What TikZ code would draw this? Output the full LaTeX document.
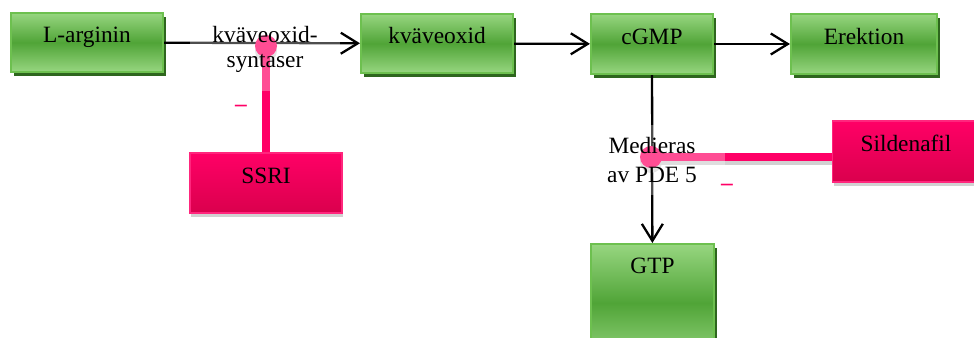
\documentclass[tikz,border=0pt]{standalone}
\usepackage{fontspec}
\setmainfont{Liberation Serif}
\usetikzlibrary{arrows.meta,shadows}

\definecolor{boxgreen}{HTML}{50A437}
\definecolor{lightgreen}{HTML}{97D680}
\definecolor{edgegreen}{HTML}{6DC04F}
\definecolor{darkgreen}{HTML}{2E661E}
\definecolor{hotpink}{HTML}{FF0066}
\definecolor{deeppink}{HTML}{DA004D}

\begin{document}
\begin{tikzpicture}
            [x=0.02cm, y=-0.02cm, >={Straight Barb[length=0.34cm,width=0.42cm]}, line width=1.3pt,
             every node/.append style={font=\fontsize{13.3}{15}\selectfont},
             greenbox/.style={draw=edgegreen, line width=1.2pt, top color=lightgreen, bottom color=lightgreen, middle color=boxgreen,
                              minimum height=1.18cm, text height=0.3cm, text depth=0.3cm, inner sep=0pt,
                              drop shadow={shadow xshift=0.06cm, shadow yshift=-0.08cm, fill=darkgreen, opacity=1}},
             pinkbox/.style={draw=hotpink!85!white, line width=0.6pt, top color=hotpink, bottom color=deeppink,
                             minimum height=1.2cm, text height=0.3cm, text depth=0.3cm, inner sep=0pt,
                             drop shadow={shadow xshift=0.02cm, shadow yshift=-0.08cm, fill=black!18, opacity=1}},
             junction/.style={circle, fill=hotpink, minimum size=0.44cm, inner sep=0pt},
             inhib/.style={draw=hotpink, line width=0.16cm},
             veil/.style={fill=white, fill opacity=0.3, text opacity=1, align=center, inner sep=0pt}]
            \useasboundingbox (0,0) rectangle (974,338);
            \clip (0,0) rectangle (974,338);

            \node[greenbox, minimum width=3.04cm] (larg) at (87,42.5) {L-arginin};
            \node[greenbox, minimum width=3.04cm] (kvox) at (437,43.5) {kväveoxid};
            \node[greenbox, minimum width=2.44cm, minimum height=1.2cm] (cgmp) at (652,44) {cGMP};
            \node[greenbox, minimum width=2.92cm, minimum height=1.2cm] (erek) at (864,44) {Erektion};
            \node[greenbox, minimum width=2.46cm, anchor=north, inner ysep=0.28cm, text depth=1.5cm] (gtp) at (652.5,243) {GTP};
            \node[pinkbox, minimum width=3.04cm] (ssri) at (266,183) {SSRI};
            \node[pinkbox, minimum width=2.94cm, minimum height=1.22cm] (sild) at (906,151.5) {Sildenafil};

            \path [->] (larg) edge (kvox);
            \path [->] (kvox) edge (cgmp);
            \path [->] (cgmp) edge (erek);
            \path [->] (cgmp) edge (gtp);

            % inhibition bars meeting the two arrows
            \coordinate (nosj) at (266,46);
            \coordinate (pdej) at (651,157);
            \fill[black!15] (nosj) ++(0,5) circle (0.22cm);
            \fill[black!15] (pdej) ++(0,5) circle (0.22cm);
            \draw[black!18, line width=0.1cm, transform canvas={yshift=-0.11cm}] (pdej) -- (pdej -| sild.west);
            \draw[inhib] (nosj) -- (nosj |- ssri.north);
            \draw[inhib] (pdej) -- (pdej -| sild.west);
            \node[junction] (nosdot) at (nosj) {};
            \node[junction] (pdedot) at (pdej) {};

            \node[veil, minimum width=3cm, minimum height=1.68cm, font=\fontsize{13.3}{14.2}\selectfont] (nosl) at (265,49) {kväveoxid-\\syntaser};
            \node[veil, minimum width=2.92cm, minimum height=1.4cm, font=\fontsize{13.3}{16.5}\selectfont] (pdel) at (652,160) {Medieras\\av PDE 5};

            \node[text=hotpink] (nosminus) at (241,108) {\textbf{--}};
            \node[text=hotpink] (pdeminus) at (727,187) {\textbf{--}};
        \end{tikzpicture}
\end{document}
